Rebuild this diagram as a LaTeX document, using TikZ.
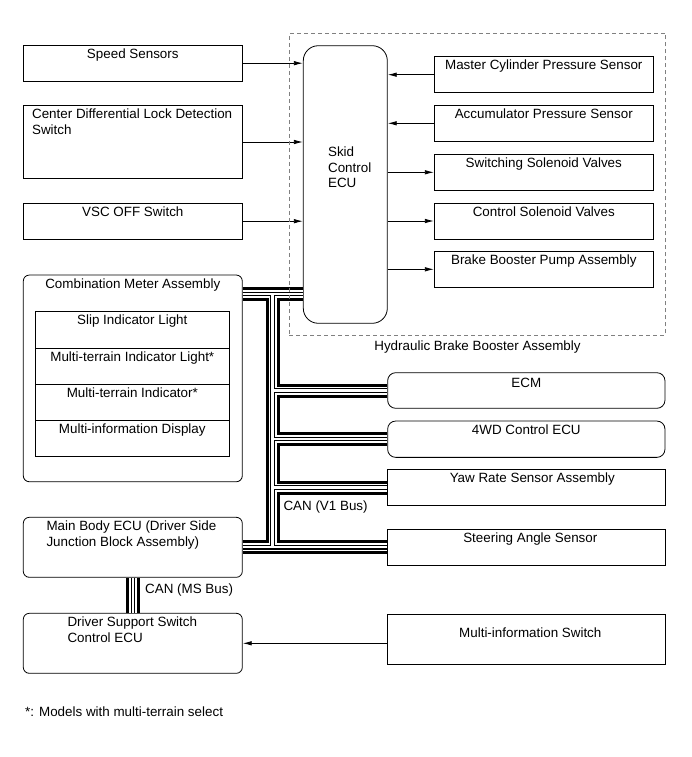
\documentclass[tikz,border=0pt]{standalone}
\usepackage{fontspec}
\setmainfont{Liberation Sans}
\usetikzlibrary{arrows.meta}

\tikzset{
  box/.style={draw, line width=0.8pt, minimum width=219pt, minimum height=36pt, inner sep=0pt},
  ecu/.style={box, rounded corners=6pt},
  ttl/.style={anchor=north, yshift=-3.6pt, inner sep=0pt},
  ttlleft/.style={anchor=north west, yshift=-3.6pt, inner sep=0pt, align=left},
  sig/.style={line width=0.8pt, -{Latex[length=9pt,width=4.5pt]}},
}

\begin{document}
\begin{tikzpicture}[x=1pt, y=-1pt, font=\fontsize{13.4}{15.7}\selectfont]
\useasboundingbox (0,0) rectangle (691,757);

% inputs to the skid control ECU
\node[box, label={[ttl]north:Speed Sensors}] (speed) at (132.8,63.2) {};
\node[box, minimum height=72.6pt, label={[ttlleft, xshift=9pt]north west:Center Differential Lock Detection\\Switch}] (cdl) at (132.8,142) {};
\node[box, label={[ttl]north:VSC OFF Switch}] (vsc) at (132.8,221.2) {};

\node[box, minimum width=84pt, minimum height=277.6pt, rounded corners=15pt, label={[anchor=west, align=left, inner sep=0pt, xshift=25pt, yshift=17.2pt]west:Skid\\Control\\ECU}] (skid) at (345.3,184.5) {};

\foreach \name/\y/\txt in {mcps/74.7/Master Cylinder Pressure Sensor, aps/123.3/Accumulator Pressure Sensor, ssv/172.3/Switching Solenoid Valves, csv/221/Control Solenoid Valves, bbpa/269.3/Brake Booster Pump Assembly}
  \node[box, label={[ttl]north:\txt}] (\name) at (543.8,\y) {};

% combination meter
\node[ecu, minimum height=206.7pt, label={[ttl]north:Combination Meter Assembly}] (comb) at (132.8,378.4) {};
\foreach \name/\y/\txt in {slip/329.8/Slip Indicator Light, mtil/366.1/Multi-terrain Indicator Light*, mti/402.3/Multi-terrain Indicator*, mid/438.6/Multi-information Display}
  \node[box, minimum width=194pt, minimum height=36.25pt, label={[ttl]north:\txt}] (\name) at (132.3,\y) {};

\node[ecu, minimum height=60pt, label={[ttlleft, xshift=23.4pt]north west:Main Body ECU (Driver Side\\Junction Block Assembly)}] (mbecu) at (132.8,547.3) {};
\node[ecu, minimum height=60pt, label={[ttlleft, xshift=44.4pt]north west:Driver Support Switch\\Control ECU}] (dsecu) at (132.8,643.3) {};

% CAN members on the right
\node[box, minimum width=277.3pt, minimum height=35.6pt, rounded corners=8pt, label={[ttl, yshift=-1.7pt]north:ECM}] (ecm) at (526.3,390.5) {};
\node[box, minimum width=277.3pt, minimum height=36.3pt, rounded corners=8pt, label={[ttl]north:4WD Control ECU}] (fourwd) at (526.3,439.2) {};
\node[box, minimum width=277.3pt, minimum height=36.4pt, label={[ttl, xshift=6pt]north:Yaw Rate Sensor Assembly}] (yaw) at (526.3,487.5) {};
\node[box, minimum width=277.3pt, minimum height=35.7pt, label={[ttl, xshift=4pt]north:Steering Angle Sensor}] (sas) at (526.3,547.3) {};
\node[box, minimum width=277.3pt, minimum height=50pt, label={[ttl, yshift=-10.3pt, xshift=4pt]north:Multi-information Switch}] (mis) at (526.3,639) {};

% signal lines
\draw[sig] (speed.east) -- (speed.east -| skid.west);
\draw[sig] (cdl.east) -- (cdl.east -| skid.west);
\draw[sig] (vsc.east) -- (vsc.east -| skid.west);
\draw[sig] (mcps.west) -- (mcps.west -| skid.east);
\draw[sig] (aps.west) -- (aps.west -| skid.east);
\foreach \n in {ssv,csv,bbpa}
  \draw[sig] (\n.west -| skid.east) -- (\n.west);
\draw[sig] (mis.west |- dsecu.east) -- (dsecu.east);

% CAN bus lines
\coordinate (vtop) at (272.5,294);
\coordinate (vbot) at (272.5,547.3);
\foreach \w/\c in {14/black, 8/white, 4.4/black, 2.2/white}
  \draw[line width=\w pt, \c] (comb.east |- vtop) -- (skid.west |- vtop)
    (vtop) -- (vbot) (mbecu.east) -- (sas.west)
    (vtop |- ecm.west) -- (ecm.west)
    (vtop |- fourwd.west) -- (fourwd.west)
    (vtop |- yaw.west) -- (yaw.west)
    (mbecu.south) -- (dsecu.north);

\node[draw=gray, dash pattern=on 4pt off 3pt, line width=0.8pt, minimum width=376.4pt, minimum height=301.7pt, inner sep=0pt, label={[anchor=north, inner sep=0pt, yshift=-5.2pt]south:Hydraulic Brake Booster Assembly}] (hbba) at (477.5,184.2) {};

\node[anchor=base west, inner sep=0pt] (v1bus) at (283.3,510) {CAN (V1 Bus)};
\node[anchor=base west, inner sep=0pt] (msbus) at (145,593) {CAN (MS Bus)};
\node[anchor=base west, inner sep=0pt] (note) at (25,716) {*: Models with multi-terrain select};
\end{tikzpicture}
\end{document}
